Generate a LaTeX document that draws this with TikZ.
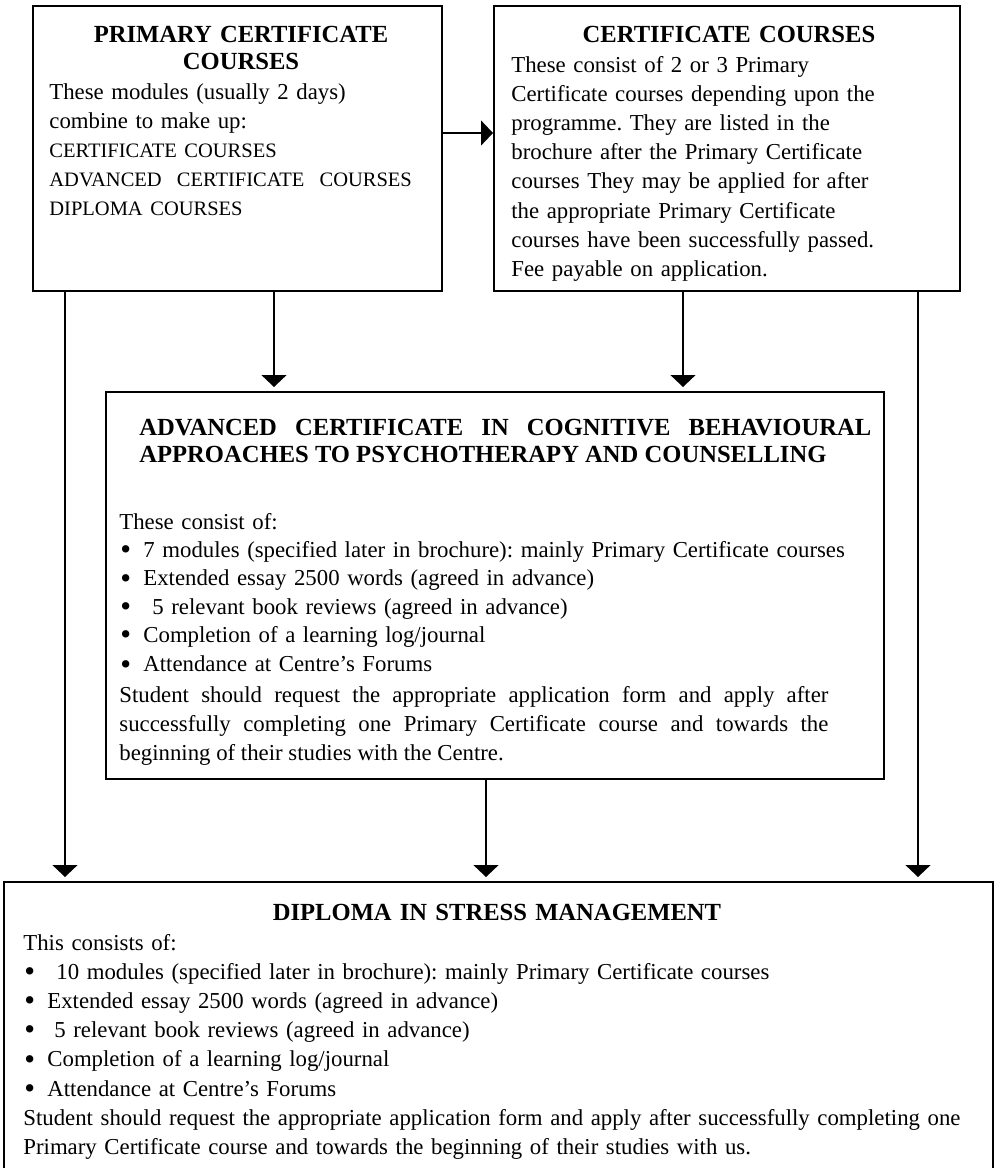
\documentclass[tikz,border=0pt]{standalone}
\usepackage{fontspec}
\setmainfont{Liberation Serif}
\usetikzlibrary{arrows.meta}
\frenchspacing
\newcommand\panelhead{\fontsize{12.3pt}{13.75pt}\selectfont\bfseries}
\newcommand\panelbody{\fontsize{11.4pt}{14.6pt}\selectfont}
\newcommand\capsline{\fontsize{10.25pt}{14.6pt}\selectfont}
\newcommand\bul{\hspace*{0.5pt}\makebox[11.5pt][l]{\raisebox{-1.1pt}{\scalebox{1.35}{\textbullet}}}}
\tikzset{
    panel/.style ={
        shape=rectangle,
        draw=black,
        line width=1pt,
        inner sep=0pt
    },
    heading/.style ={
        font=\panelhead,
        align=center,
        inner sep=0pt,
        anchor=base
    },
    banner/.style ={
        font=\panelhead,
        align=justify,
        inner sep=0pt,
        anchor=base west
    },
    blurb/.style ={
        font=\panelbody,
        align=left,
        inner sep=0pt,
        anchor=base west
    },
    flow/.style ={
        -{Triangle[length=6pt,width=12.5pt]},
        line width=0.65pt
    }
}

\begin{document}
\begin{tikzpicture}[x=0.5pt,y=-0.5pt]
    \useasboundingbox (0,0) rectangle (998,1168);
    \clip (0,0) rectangle (998,1168);

    \node[panel, minimum width=204.5pt, minimum height=142.5pt] (primary) at (237.5,148.5) {};
    \node[panel, minimum width=233pt, minimum height=142.5pt] (certificate) at (727,148.5) {};
    \node[panel, minimum width=389pt, minimum height=193.5pt] (advanced) at (495,585.5) {};
    \node[panel, minimum width=494.5pt, minimum height=145pt] (diploma) at (498.5,1027) {};

    \node[heading, text width=200pt] (primaryhead) at (241,42) {PRIMARY CERTIFICATE\\COURSES};
    \node[blurb, text width=200pt] (primarytext) at (49,99) {These modules (usually 2 days)\\combine to make up:\\{\capsline CERTIFICATE COURSES}\\{\capsline ADVANCED\ \ CERTIFICATE\ \ COURSES}\\{\capsline DIPLOMA COURSES}};

    \node[heading, text width=230pt] (certhead) at (729,42) {CERTIFICATE COURSES};
    \node[blurb, text width=225pt] (certtext) at (511,72) {These consist of 2 or 3 Primary\\Certificate courses depending upon the\\programme. They are listed in the\\brochure after the Primary Certificate\\courses They may be applied for after\\the appropriate Primary Certificate\\courses have been successfully passed.\\Fee payable on application.};

    \node[banner, text width=366pt] (advhead) at (139,435) {ADVANCED CERTIFICATE IN COGNITIVE BEHAVIOURAL\linebreak APPROACHES TO PSYCHOTHERAPY AND COUNSELLING};
    \node[blurb, text width=375pt] (advlist) at (119,529) {\baselineskip=14.2pt These consist of:\\\bul 7 modules (specified later in brochure): mainly Primary Certificate courses\\\bul Extended essay 2500 words (agreed in advance)\\\bul\hspace{4.5pt}5 relevant book reviews (agreed in advance)\\\bul Completion of a learning log/journal\\\bul Attendance at Centre’s Forums};
    \node[blurb, align=justify, text width=354.5pt] (advnote) at (119,702) {Student should request the appropriate application form and apply after\linebreak successfully completing one Primary Certificate course and towards the\linebreak beginning of their studies with the Centre.};

    \node[heading, text width=300pt] (diphead) at (497,920) {DIPLOMA IN STRESS MANAGEMENT};
    \node[blurb, text width=485pt] (diptext) at (23,950) {This consists of:\\\bul\hspace{4.5pt}10 modules (specified later in brochure): mainly Primary Certificate courses\\\bul Extended essay 2500 words (agreed in advance)\\\bul\hspace{3.5pt}5 relevant book reviews (agreed in advance)\\\bul Completion of a learning log/journal\\\bul Attendance at Centre’s Forums\\Student should request the appropriate application form and apply after successfully completing one\\Primary Certificate course and towards the beginning of their studies with us.};

    \coordinate (primaryleft) at ([xshift=16.5pt]primary.south west);
    \coordinate (primarymid) at ([xshift=121pt]primary.south west);
    \coordinate (certmid) at ([xshift=95pt]certificate.south west);
    \coordinate (certright) at ([xshift=212.5pt]certificate.south west);
    \coordinate (advmid) at ([xshift=190.5pt]advanced.south west);

    \draw[flow] ([yshift=7.75pt]primary.east) -- ([yshift=7.75pt]certificate.west);
    \draw[flow, shorten >=2pt] (primarymid) -- (primarymid |- advanced.north);
    \draw[flow, shorten >=2pt] (certmid) -- (certmid |- advanced.north);
    \draw[flow, shorten >=2pt] (primaryleft) -- (primaryleft |- diploma.north);
    \draw[flow, shorten >=2pt] (certright) -- (certright |- diploma.north);
    \draw[flow, shorten >=2pt] (advmid) -- (advmid |- diploma.north);
\end{tikzpicture}
\end{document}
